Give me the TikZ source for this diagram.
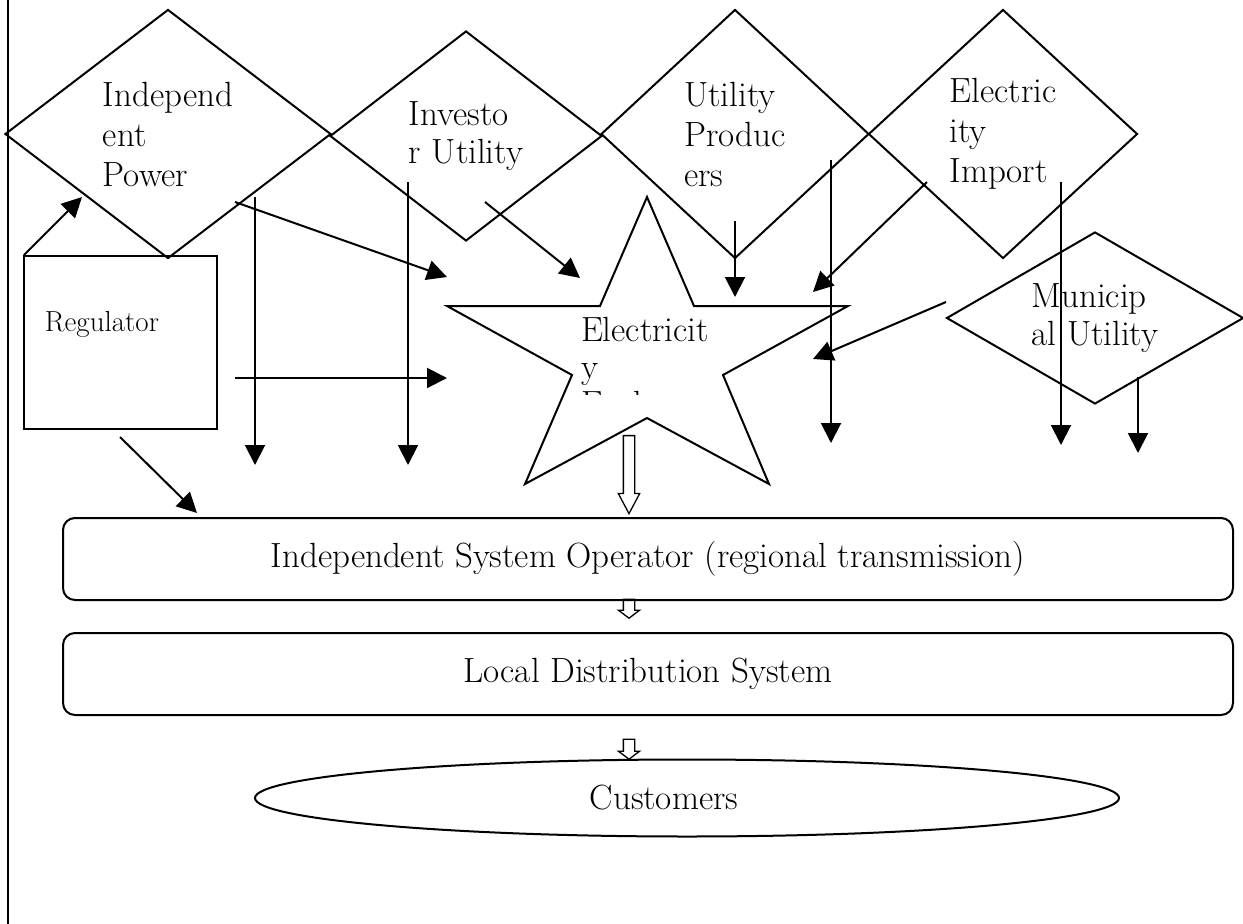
\documentclass[tikz,border=0pt]{standalone}
\usepackage{tikz}
\usetikzlibrary{arrows.meta, shapes.geometric, shapes.arrows}

\tikzset{
  txt/.style={font=\fontsize{35}{40}\selectfont},
  dia/.style={diamond, draw, inner sep=0pt, align=left, txt},
  opbox/.style={rectangle, draw, rounded corners=12pt, minimum width=1170pt, minimum height=82pt, txt},
  arr/.style={-{Triangle[length=20pt,width=20pt]}},
  hollow/.style={single arrow, draw, rotate=-90, inner xsep=0pt, inner ysep=5pt,
    single arrow head extend=5pt, minimum width=0pt, line width=1.3pt}
}

\begin{document}
\begin{tikzpicture}[x=1pt, y=-1pt, line width=2pt]
  \useasboundingbox (0,0) rectangle (1243,924);
  % margin rule
  \draw (8,0) -- (8,924);

  % suppliers
  \node[dia, aspect=1.3, minimum width=326pt, minimum height=249pt] (indep) at (168,134) {Independ\\ent\\Power};
  \node[dia, aspect=1.3, minimum width=272pt, minimum height=210pt, font=\fontsize{35}{38}\selectfont] (invest) at (466,136) {Investo\\r Utility};
  \node[dia, aspect=1.07, minimum width=268pt, minimum height=249pt] (prod) at (735,134) {Utility\\Produc\\ers};
  \node[dia, aspect=1.07, minimum width=269pt, minimum height=249pt] (import) at (1003,134) {Electric\\ity\\Import};
  \node[dia, aspect=1.72, minimum width=297pt, minimum height=172pt, font=\fontsize{35}{38}\selectfont] (muni) at (1095,318) {Municip\\al Utility};

  % the exchange (star)
  \draw (647,197) -- (694,306) -- (848,306) -- (723,375) -- (769,484) -- (647,418)
    -- (525,484) -- (572,375) -- (447,306) -- (600,306) -- cycle;
  \begin{scope}
    \clip (560,300) rectangle (730,394);
    \node[align=left, inner sep=0pt, anchor=north west, font=\fontsize{35}{37}\selectfont] (exch) at (580,316) {Electricit\\y\\Exchange};
  \end{scope}

  % regulator
  \node[draw, minimum width=193pt, minimum height=173pt] (reg) at (120.5,342.5) {};
  \node[font=\fontsize{29}{33}\selectfont, anchor=base west, inner sep=0pt] (regtxt) at ([shift={(21,76)}]reg.north west) {Regulator};

  % transmission, distribution, customers
  \node[opbox] (iso) at (648,559) {Independent System Operator (regional transmission)};
  \node[opbox] (lds) at (648,674) {Local Distribution System};
  \node[draw, ellipse, minimum width=864pt, minimum height=77pt] (cust) at (687,798) {};
  \node[txt] (custtxt) at ([xshift=-23pt]cust.center) {Customers};

  % hollow flow arrows
  \node[hollow, minimum height=78pt, single arrow tip angle=56, anchor=tip] (flowA) at (629,515) {};
  \node[hollow, minimum height=19pt, single arrow tip angle=106, anchor=tip] (flowB) at (629,619) {};
  \node[hollow, minimum height=20pt, single arrow tip angle=106, anchor=tip] (flowC) at (629,760) {};

  % ends of the arrows
  \foreach \n/\x/\y in {regUp/24/255, indepIn/82/197, indepOut/235/202, starW/447/277,
      investOut/485/202, starNW/580/278, indepDown/255/197, indepEnd/255/465,
      investDown/408/182, investEnd/408/465, prodOut/735/221, starN/735/297,
      prodDown/831/160, prodEnd/831/443, importOut/927/182, starNE/813/292,
      muniOut/946/302, starE/813/359, importDown/1061/182, importEnd/1061/445,
      muniDown/1138/377, muniEnd/1138/453, regRight/235/378, starL/447/378,
      regDown/120/437, isoIn/197/513}
    \coordinate (\n) at (\x,\y);

  \foreach \s/\t in {regUp/indepIn, indepOut/starW, investOut/starNW, indepDown/indepEnd,
      investDown/investEnd, prodOut/starN, prodDown/prodEnd, importOut/starNE,
      muniOut/starE, importDown/importEnd, muniDown/muniEnd, regRight/starL, regDown/isoIn}
    \draw[arr] (\s) -- (\t);
\end{tikzpicture}
\end{document}
